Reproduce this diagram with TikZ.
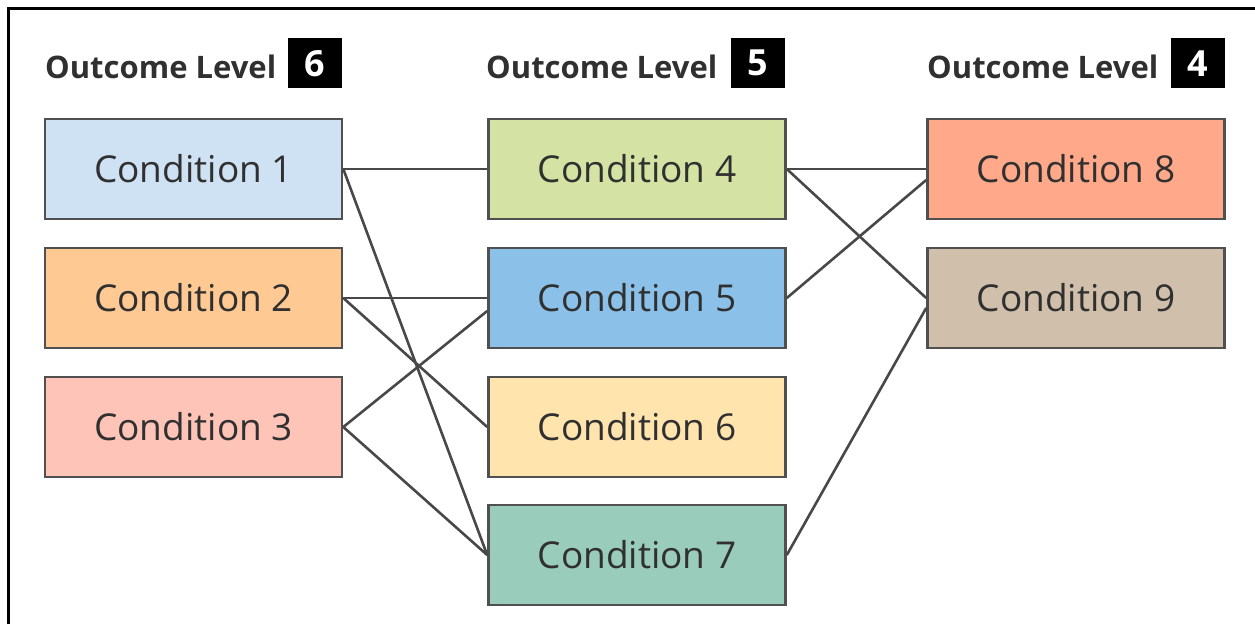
\documentclass[tikz,border=0pt]{standalone}
\usepackage{fontspec}
\setmainfont{Open Sans}
\usetikzlibrary{calc}
\definecolor{cA}{HTML}{CFE2F3}
\definecolor{cB}{HTML}{FFC993}
\definecolor{cC}{HTML}{FFC4B8}
\definecolor{cD}{HTML}{D4E3A3}
\definecolor{cE}{HTML}{8BC1E8}
\definecolor{cF}{HTML}{FFE4AE}
\definecolor{cG}{HTML}{99CCBB}
\definecolor{cH}{HTML}{FFA98A}
\definecolor{cI}{HTML}{D0C0AB}
\definecolor{edge}{HTML}{505050}
\definecolor{txt}{HTML}{303030}
\tikzset{
  condbox/.style={draw=edge, line width=2.6pt, minimum width=297pt, minimum height=100pt, inner sep=0pt,
    text=txt, font=\fontsize{37}{42}\selectfont},
  hdr/.style={anchor=base west, inner sep=0pt, text=txt, font=\bfseries\fontsize{31}{36}\selectfont},
  numbox/.style={fill=black, text=white, anchor=north east, minimum width=54pt, minimum height=50pt, inner sep=0pt,
    font=\bfseries\fontsize{36}{40}\selectfont},
  conn/.style={draw=edge!90!black, line width=2.6pt},
  frameline/.style={draw=black, line width=2.2pt}
}
\begin{document}
\begin{tikzpicture}[x=1pt,y=-1pt]
\useasboundingbox (0,0) rectangle (1255,624);
\coordinate (f1) at (8.5,624);
\coordinate (f2) at (8.5,8.5);
\coordinate (f3) at (1255,8.5);
\draw[frameline] (f1) -- (f2) -- (f3);

\node[hdr] (h6) at (45,78) {Outcome Level};
\node[numbox] (n6) at (342,38) {6};
\node[hdr] (h5) at (486,78) {Outcome Level};
\node[numbox] (n5) at (785,38) {5};
\node[hdr] (h4) at (927,78) {Outcome Level};
\node[numbox] (n4) at (1225,38) {4};

\node[condbox, fill=cA] (c1) at (193.5,169) {Condition 1};
\node[condbox, fill=cB] (c2) at (193.5,298) {Condition 2};
\node[condbox, fill=cC] (c3) at (193.5,427) {Condition 3};
\node[condbox, fill=cD] (c4) at (637,169) {Condition 4};
\node[condbox, fill=cE] (c5) at (637,298) {Condition 5};
\node[condbox, fill=cF] (c6) at (637,427) {Condition 6};
\node[condbox, fill=cG] (c7) at (637,555) {Condition 7};
\node[condbox, fill=cH] (c8) at (1076,169) {Condition 8};
\node[condbox, fill=cI] (c9) at (1076,298) {Condition 9};

\draw[conn] (c1.east) -- (c4.west);
\draw[conn] (c1.east) -- (c7.west);
\draw[conn] (c2.east) -- (c5.west);
\draw[conn] (c2.east) -- (c6.west);
\draw[conn] (c3.east) -- ($(c5.west)+(0,13)$);
\draw[conn] (c3.east) -- (c7.west);
\draw[conn] (c4.east) -- (c8.west);
\draw[conn] (c4.east) -- (c9.west);
\draw[conn] (c5.east) -- ($(c8.west)+(0,11)$);
\draw[conn] (c7.east) -- ($(c9.west)+(0,10)$);
\end{tikzpicture}
\end{document}
